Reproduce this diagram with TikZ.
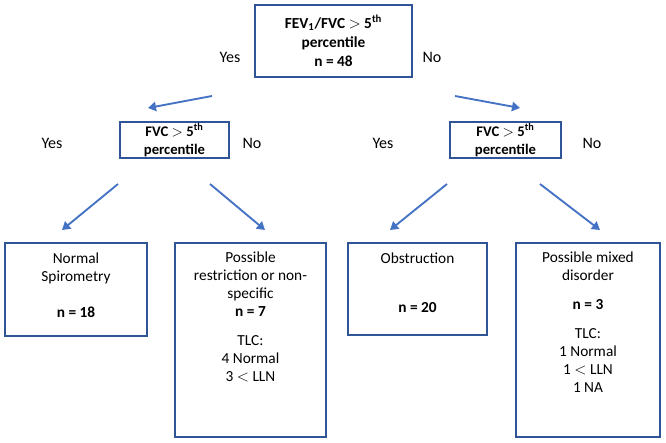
\documentclass[tikz,border=0pt]{standalone}
\usepackage{fontspec}
\setmainfont{Carlito}
\usetikzlibrary{arrows.meta}
\definecolor{boxblue}{HTML}{2F5597}
\definecolor{arrblue}{HTML}{4472C4}
\tikzset{
  box/.style 2 args={draw=boxblue, line width=1.6pt, inner sep=0pt,
    minimum width=#1*0.75pt, minimum height=#2*0.75pt},
  txt/.style={align=center, font=\fontsize{11.5}{13.5}\selectfont, inner sep=0pt},
  lbl/.style={txt, font=\fontsize{12}{14}\selectfont},
  arr/.style={draw=arrblue, line width=1.4pt, -{Triangle[length=6pt,width=7pt]}}
}
\begin{document}
\begin{tikzpicture}[x=0.75pt,y=-0.75pt]
\useasboundingbox (0,0) rectangle (666,442);
% boxes
\node[box={157}{72}] (top) at (333.5,41) {};
\node[box={109}{36}] (fvcl) at (174.5,140) {};
\node[box={111}{36}] (fvcr) at (505.5,140) {};
\node[box={142}{93}] (norm) at (76,289.5) {};
\node[box={151}{194}] (restr) at (250.5,340) {};
\node[box={139}{92}] (obst) at (417.5,289) {};
\node[box={144}{194}] (mixed) at (588,340) {};
% texts
\node[txt, font=\bfseries\fontsize{11.5}{14.5}\selectfont] (toptxt) at (top) {FEV\textsubscript{1}/FVC $>$ 5\textsuperscript{th}\\percentile\\n = 48};
\node[txt, font=\bfseries\fontsize{11}{13.5}\selectfont] (fvcltxt) at (fvcl) {FVC $>$ 5\textsuperscript{th}\\percentile};
\node[txt, font=\bfseries\fontsize{11}{13.5}\selectfont] (fvcrtxt) at (fvcr) {FVC $>$ 5\textsuperscript{th}\\percentile};
\node[txt, anchor=north] (normtxt) at (76,253) {Normal\\Spirometry\\[13pt]\textbf{n = 18}};
\node[txt, anchor=north] (restrtxt) at (250.5,252) {Possible\\restriction or non-\\specific\\\textbf{n = 7}\\[8pt]TLC:\\4 Normal\\3 $<$ LLN};
\node[txt, anchor=north] (obsttxt) at (417.5,253) {Obstruction\\[23pt]\textbf{n = 20}};
\node[txt, anchor=north] (mixedtxt) at (588,252) {Possible mixed\\disorder\\[8pt]\textbf{n = 3}\\[8pt]TLC:\\1 Normal\\1 $<$ LLN\\1 NA};
% labels
\node[lbl] (y0) at (230,57) {Yes};
\node[lbl] (n0) at (432,57) {No};
\node[lbl] (y1) at (52,143) {Yes};
\node[lbl] (n1) at (252,143) {No};
\node[lbl] (y2) at (383,143) {Yes};
\node[lbl] (n2) at (592,143) {No};
% arrows
\coordinate (a1) at (212,96); \coordinate (b1) at (148,108);
\coordinate (a2) at (455,96); \coordinate (b2) at (520,108);
\coordinate (a3) at (118,184); \coordinate (b3) at (62,230);
\coordinate (a4) at (210,184); \coordinate (b4) at (265,230);
\coordinate (a5) at (447,184); \coordinate (b5) at (390,230);
\coordinate (a6) at (540,184); \coordinate (b6) at (600,230);
\foreach \i in {1,...,6} \draw[arr] (a\i) -- (b\i);
\end{tikzpicture}
\end{document}
